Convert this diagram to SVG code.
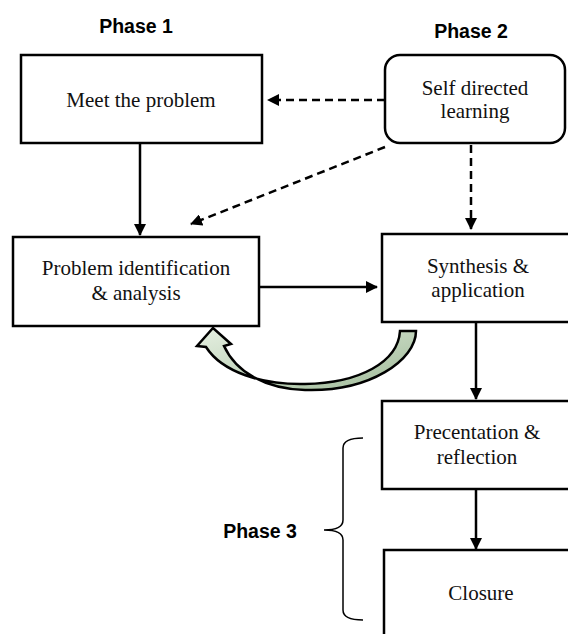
<svg xmlns="http://www.w3.org/2000/svg" width="568" height="634" viewBox="0 0 568 634">
<style>
.box{fill:#fff;stroke:#000;stroke-width:2.5}
.t{font-family:"Liberation Serif","Times New Roman",serif;font-size:21px;fill:#111;text-anchor:middle}
.ph{font-family:"Liberation Sans",Arial,sans-serif;font-weight:bold;font-size:19.5px;fill:#000;text-anchor:middle}
.ln{stroke:#000;stroke-width:2.5;fill:none}
.dash{stroke-dasharray:8 5}
</style>
<defs>
<marker id="ah" markerWidth="12" markerHeight="12" refX="11" refY="6" orient="auto" markerUnits="userSpaceOnUse">
<path d="M0,0 L12,6 L0,12 Z" fill="#000"/>
</marker>
<linearGradient id="g" x1="0" y1="0" x2="1" y2="1">
<stop offset="0" stop-color="#e6f0e2"/>
<stop offset="1" stop-color="#9fba98"/>
</linearGradient>
</defs>
<g id="labels">
<text class="ph" x="136" y="33">Phase 1</text>
<text class="ph" x="471" y="38">Phase 2</text>
<text class="ph" x="260" y="538">Phase 3</text>
</g>
<g id="meet">
<rect class="box" x="21" y="55" width="241" height="88"/>
<text class="t" x="141" y="107">Meet the problem</text>
</g>
<g id="selfdirected">
<rect class="box" x="385" y="55" width="180" height="88" rx="15"/>
<text class="t" x="475" y="95">Self directed</text>
<text class="t" x="475" y="118">learning</text>
</g>
<g id="problem">
<rect class="box" x="13" y="237" width="246" height="89"/>
<text class="t" x="136" y="275">Problem identification</text>
<text class="t" x="136" y="300">&amp; analysis</text>
</g>
<g id="synthesis">
<rect class="box" x="382" y="234" width="190" height="88"/>
<text class="t" x="478" y="273">Synthesis &amp;</text>
<text class="t" x="478" y="297">application</text>
</g>
<g id="presentation">
<rect class="box" x="382" y="401" width="190" height="88"/>
<text class="t" x="477" y="439">Precentation &amp;</text>
<text class="t" x="477" y="464">reflection</text>
</g>
<g id="closure">
<rect class="box" x="384" y="550" width="190" height="95"/>
<text class="t" x="481" y="600">Closure</text>
</g>
<g id="connectors">
<line class="ln" x1="140" y1="143" x2="140" y2="235" marker-end="url(#ah)"/>
<line class="ln dash" x1="385" y1="100" x2="268" y2="100" marker-end="url(#ah)"/>
<line class="ln dash" x1="385" y1="147" x2="191" y2="224" marker-end="url(#ah)"/>
<line class="ln dash" x1="471" y1="145" x2="471" y2="229" marker-end="url(#ah)"/>
<line class="ln" x1="260" y1="287" x2="377" y2="287" marker-end="url(#ah)"/>
<line class="ln" x1="476" y1="322" x2="476" y2="399" marker-end="url(#ah)"/>
<line class="ln" x1="476" y1="489" x2="476" y2="549" marker-end="url(#ah)"/>
<path d="M400 331 L416 331 C416 360 370 392 305 390 C265 389 236 372 224 346 L231 344 L213 328 L197 346 L206 347 C222 372 262 385 305 384 C360 383 398 362 400 331 Z" fill="url(#g)" stroke="#000" stroke-width="2.5" stroke-linejoin="miter"/>
<path d="M363 438 Q343 438 343 448 L343 520 Q343 530 324 530 Q343 530 343 540 L343 610 Q343 620 363 620" fill="none" stroke="#000" stroke-width="1.5"/>
</g>
</svg>
